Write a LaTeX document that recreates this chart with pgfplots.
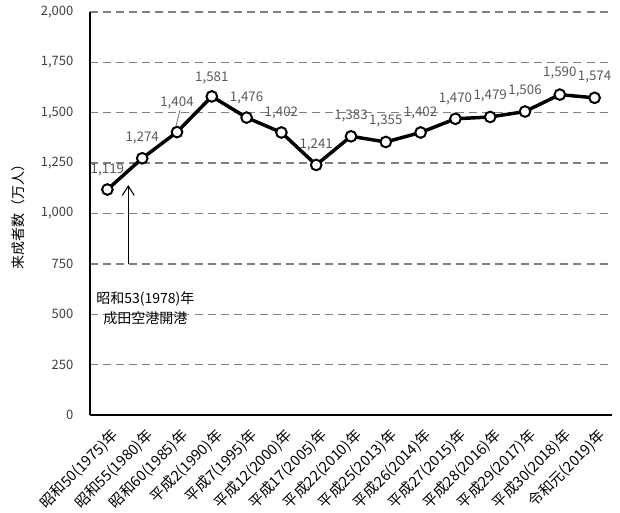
\documentclass[border=0pt]{standalone}
\usepackage{pgfplots}
\pgfplotsset{compat=1.18}
\usepackage{pgfplotstable}
\usepackage{fontspec}
\setmainfont{Noto Sans CJK JP}
\usetikzlibrary{arrows.meta}
\definecolor{gridgray}{HTML}{808080}
\definecolor{lblgray}{HTML}{595959}
\definecolor{tickgray}{HTML}{404040}

\pgfplotstableread{
x y dy
0 1119 15
1 1274 15
2 1404 21.75
3 1581 14
4 1476 15
5 1402 15
6 1241 15
7 1383 15.5
8 1355 15.5
9 1402 15
10 1470 15
11 1479 16
12 1506 15.5
13 1590 16
14 1574 15.5
}\datatable

\begin{document}
\begin{tikzpicture}
\begin{axis}[
  scale only axis,
  width=391.5pt, height=302.25pt,
  xmin=-0.5, xmax=14.5,
  ymin=0, ymax=2000,
  ytick distance=250,
  xtick={0,...,14},
  xticklabels={昭和50(1975)年,昭和55(1980)年,昭和60(1985)年,平成2(1990)年,平成7(1995)年,平成12(2000)年,平成17(2005)年,平成22(2010)年,平成25(2013)年,平成26(2014)年,平成27(2015)年,平成28(2016)年,平成29(2017)年,平成30(2018)年,令和元(2019)年},
  axis x line*=bottom, axis y line*=left,
  axis line style={line width=1.5pt, black},
  major tick length=0pt,
  ymajorgrids,
  major grid style={gridgray, line width=1.1pt, dash pattern=on 6pt off 3.8pt},
  /pgf/number format/assume math mode=true,
  /pgf/number format/1000 sep={,},
  yticklabel style={font=\fontsize{9.75pt}{11pt}\selectfont, text=tickgray, xshift=-9pt},
  xticklabel style={font=\fontsize{11pt}{12pt}\selectfont, text=black, rotate=45, anchor=north east, inner sep=1pt, yshift=-7pt, xshift=-4pt},
  ylabel={来成者数（万人）},
  ylabel style={at={(axis description cs:-0.138,0.5)}, anchor=center, font=\fontsize{10.5pt}{12pt}\selectfont},
  clip=false,
]
\addplot[line width=2.6pt, black, mark=*, mark size=4pt,
  mark options={fill=white, draw=black, line width=1.5pt},
  nodes near coords,
  visualization depends on={\thisrow{dy} \as \dy},
  every node near coord/.append style={anchor=center, yshift=\dy pt, text=lblgray, font=\fontsize{10pt}{11pt}\selectfont},
  point meta=explicit,
  nodes near coords={\pgfmathprintnumber[1000 sep={,}]{\pgfplotspointmeta}},
] table[x=x, y=y, meta=y] {\datatable};
\draw[lblgray, line width=0.5pt] (axis cs:2.086,1514) -- (axis cs:1.97,1434);
\draw[line width=0.8pt, -{Straight Barb[length=7pt, width=9pt]}] (axis cs:0.6,750) -- (axis cs:0.6,1141);
\node[align=center, font=\fontsize{10.5pt}{15pt}\selectfont] at (axis cs:1.09,531) {昭和53(1978)年\\成田空港開港};
\end{axis}
\useasboundingbox (-67.5pt,-73.5pt) rectangle (397.5pt,311.25pt);
\end{tikzpicture}
\end{document}
